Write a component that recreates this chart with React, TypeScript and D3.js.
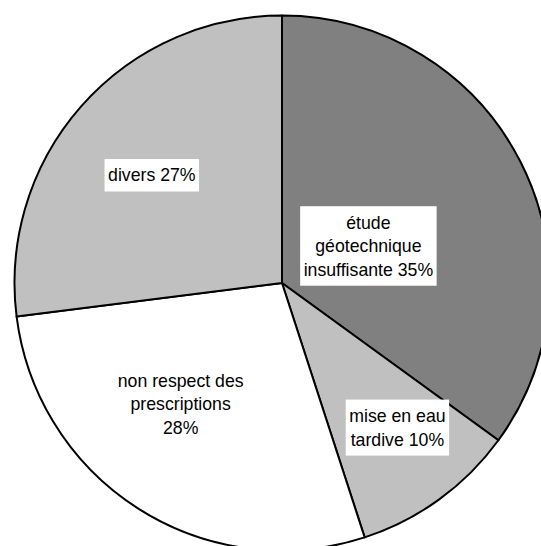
import React from "react";
import * as d3 from "d3";

// Causes of foundation problems, share in percent (clockwise from 12 o'clock)
const causes = ["étude géotechnique insuffisante", "mise en eau tardive", "non respect des prescriptions", "divers"];
const shares = [35, 10, 28, 27];
const labelLines = [
  ["étude", "géotechnique", "insuffisante 35%"],
  ["mise en eau", "tardive 10%"],
  ["non respect des", "prescriptions", "28%"],
  ["divers 27%"],
];

// Slice fills and label layout (distance from centre, angular nudge in degrees)
const fills = ["#808080", "#c0c0c0", "#ffffff", "#c0c0c0"];
const labelBoxed = [true, true, false, true];
const labelRadius = [94, 185, 158, 169];
const labelNudge = [3.8, -2.6, 7.5, -1.8];

const W = 541;
const H = 546;
const CX = 282;
const CY = 283;
const R = 267.5;
const FONT = 17.7;
const LINE_H = 23.5;
const FONT_FAMILY = "'Liberation Sans', Arial, Helvetica, sans-serif";

export default function App() {
  const pie = d3.pie<number>().sort(null).value((d) => d);
  const arcs = pie(shares);
  const arc = d3.arc<d3.PieArcDatum<number>>().innerRadius(0).outerRadius(R);

  // width measurement for the label backgrounds
  const measure = (s: string) => {
    if (typeof document === "undefined") return s.length * FONT * 0.5;
    const c = document.createElement("canvas").getContext("2d")!;
    c.font = `${FONT}px ${FONT_FAMILY}`;
    return c.measureText(s).width;
  };

  return (
    <svg
      width={W}
      height={H}
      style={{ position: "absolute", left: 0, top: 0, background: "#fff" }}
      fontFamily={FONT_FAMILY}
    >
      <g transform={`translate(${CX},${CY})`}>
        {arcs.map((a, i) => (
          <path
            key={causes[i]}
            d={arc(a) || ""}
            fill={fills[i]}
            stroke="#000"
            strokeWidth={2}
            strokeLinejoin="round"
          />
        ))}
        {arcs.map((a, i) => {
          const mid = (a.startAngle + a.endAngle) / 2 + (labelNudge[i] * Math.PI) / 180;
          const x = Math.sin(mid) * labelRadius[i];
          const y = -Math.cos(mid) * labelRadius[i];
          const lines = labelLines[i];
          const widest = d3.max(lines, measure) || 0;
          const boxW = widest + 7;
          const boxH = lines.length * LINE_H + 9;
          const top = y - (lines.length * LINE_H) / 2;
          return (
            <g key={`lbl-${i}`}>
              {labelBoxed[i] && (
                <rect x={x - boxW / 2} y={y - boxH / 2} width={boxW} height={boxH} fill="#fff" />
              )}
              <text textAnchor="middle" fontSize={FONT} fill="#000">
                {lines.map((ln, j) => (
                  <tspan key={j} x={x} y={top + j * LINE_H + LINE_H / 2} dy="0.35em">
                    {ln}
                  </tspan>
                ))}
              </text>
            </g>
          );
        })}
      </g>
    </svg>
  );
}
